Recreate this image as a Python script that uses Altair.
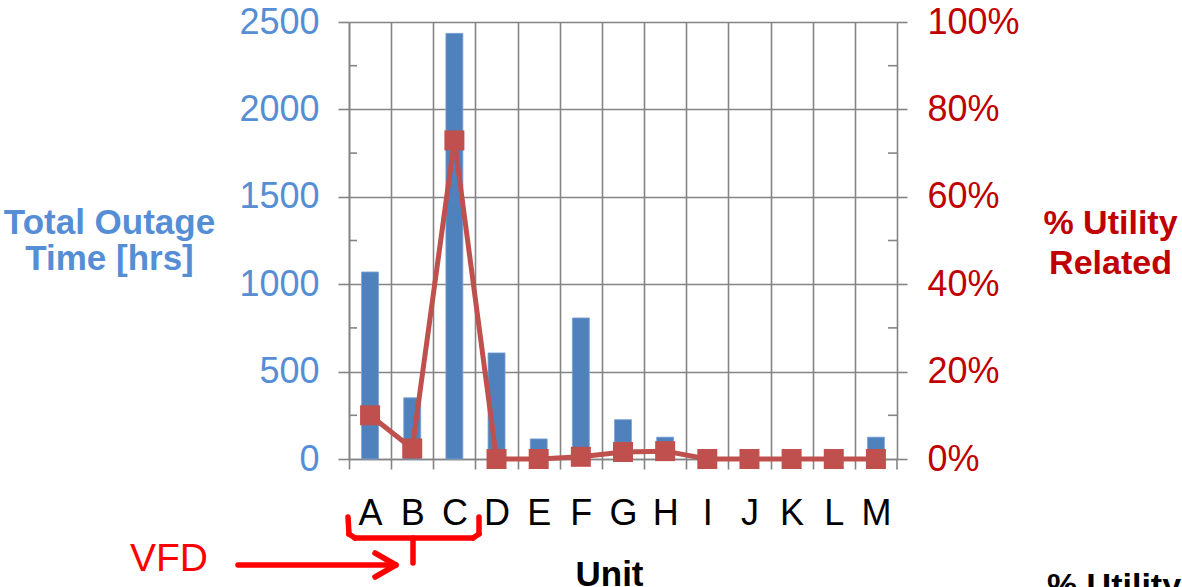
import altair as alt
import pandas as pd

# Units and their outage figures
units = ["A", "B", "C", "D", "E", "F", "G", "H", "I", "J", "K", "L", "M"]
outage_hrs = [1070, 350, 2435, 607, 115, 807, 225, 125, 0, 0, 0, 0, 125]
utility_share = [0.100, 0.024, 0.729, 0.0, 0.0, 0.005, 0.016, 0.018, 0.0, 0.0, 0.0, 0.0, 0.0]

# Axis tick values
hrs_ticks = [0, 500, 1000, 1500, 2000, 2500]
hrs_minor = [250, 750, 1250, 1750, 2250]
pct_ticks = [0, 0.2, 0.4, 0.6, 0.8, 1.0]
pct_minor = [0.1, 0.3, 0.5, 0.7, 0.9]

W, H = 548, 437
STEP = W / len(units)
FONT = "Liberation Sans"
GRID = "#848484"
GW = 1.6
BLUE_TXT = "#558ED5"
RED_TXT = "#C00000"
BAR = "#4F81BD"
LINE = "#C0504D"
ANNO = "#FF0000"

df = pd.DataFrame({"unit": units, "hrs": outage_hrs, "share": utility_share})
one = pd.DataFrame({"k": [0]})

x_enc = alt.X(
    "unit:N",
    sort=units,
    scale=alt.Scale(paddingInner=0, paddingOuter=0),
    axis=alt.Axis(
        title="Unit", labelAngle=0, labelFont=FONT, labelFontSize=36, labelColor="#000000",
        labelPadding=27, tickSize=10, tickColor=GRID, tickWidth=GW,
        tickOffset=-STEP / 2, labelOffset=STEP / 2,
        grid=True, gridColor=GRID, gridWidth=GW, domainColor=GRID, domainWidth=GW,
        titleFont=FONT, titleFontSize=35, titleFontWeight="bold", titleColor="#000000",
        titleX=260, titleY=126, titleAlign="center", titleBaseline="alphabetic",
    ),
)

hrs_scale = alt.Scale(domain=[0, 2500], nice=False, zero=True)
hrs_axis = alt.Axis(
    values=hrs_ticks, orient="left", format="d", labelFont=FONT, labelFontSize=36,
    labelColor=BLUE_TXT, labelPadding=19, tickSize=11, tickColor=GRID, tickWidth=GW,
    grid=True, gridColor=GRID, gridWidth=GW, domainColor=GRID, domainWidth=GW,
    title=["Total Outage", "Time [hrs]"], titleFont=FONT, titleFontSize=35,
    titleFontWeight="bold", titleColor=BLUE_TXT, titleAngle=0, titleAlign="center",
    titleBaseline="alphabetic", titleX=-240, titleY=211, titleLineHeight=36,
)

pct_scale = alt.Scale(domain=[0, 1], nice=False)
pct_axis = alt.Axis(
    values=pct_ticks, orient="right", format=".0%", labelFont=FONT, labelFontSize=36,
    labelColor=RED_TXT, labelPadding=20, tickSize=10, tickColor=GRID, tickWidth=GW,
    grid=False, domainColor=GRID, domainWidth=GW,
    title=["% Utility", "Related"], titleFont=FONT, titleFontSize=34,
    titleFontWeight="bold", titleColor=RED_TXT, titleAngle=0, titleAlign="center",
    titleBaseline="alphabetic", titleX=213, titleY=211, titleLineHeight=40,
)

bars = alt.Chart(df).mark_bar(size=17, color=BAR, stroke="#7FA3D3", strokeWidth=0.8).encode(
    x=x_enc,
    y=alt.Y("hrs:Q", scale=hrs_scale, axis=hrs_axis),
)

# Inner minor ticks on the left axis
minor_left = alt.Chart(pd.DataFrame({"hrs": hrs_minor})).mark_rule(color=GRID, strokeWidth=GW).encode(
    y=alt.Y("hrs:Q", scale=hrs_scale, axis=hrs_axis), x=alt.value(0), x2=alt.value(8)
)

line = alt.Chart(df).mark_line(
    color=LINE, strokeWidth=5,
    point=alt.OverlayMarkDef(shape="square", size=400, filled=True, color=LINE, opacity=1),
).encode(
    x=alt.X("unit:N", sort=units),
    y=alt.Y("share:Q", scale=pct_scale, axis=pct_axis),
)

# Inner minor ticks on the right axis
minor_right = alt.Chart(pd.DataFrame({"share": pct_minor})).mark_rule(color=GRID, strokeWidth=GW).encode(
    y=alt.Y("share:Q", scale=pct_scale, axis=pct_axis), x=alt.value(W - 9), x2=alt.value(W)
)


def seg(x1, y1, x2, y2, color=ANNO, width=5.5):
    return alt.Chart(one).mark_rule(color=color, strokeWidth=width, strokeCap="round").encode(
        x=alt.value(x1), y=alt.value(y1), x2=alt.value(x2), y2=alt.value(y2)
    )


# Last category boundary tick below the x axis
end_tick = seg(W, H, W, H + 10, color=GRID, width=GW)

# "VFD" bracket under units A-C with a pointing arrow
annotations = [
    seg(-1, 495, 0, 512),
    seg(0, 512, 6, 516),
    seg(6, 516, 124, 516),
    seg(124, 516, 130, 512),
    seg(130, 512, 130, 495),
    seg(64, 516, 64, 541),
    seg(-111, 543, 46, 543),
    seg(26, 531, 47, 543),
    seg(26, 555, 47, 543),
]

vfd = alt.Chart(one).mark_text(
    text="VFD", font=FONT, fontSize=39, color=ANNO, align="left", baseline="alphabetic"
).encode(x=alt.value(-219), y=alt.value(549))

cut_label = alt.Chart(one).mark_text(
    text="% Utility", font=FONT, fontSize=34, fontWeight="bold", color="#000000",
    align="center", baseline="alphabetic",
).encode(x=alt.value(765), y=alt.value(575))

left = alt.layer(bars, minor_left)
right = alt.layer(line, minor_right)

chart = (
    alt.layer(left, right, end_tick, vfd, cut_label, *annotations)
    .resolve_scale(y="independent")
    .properties(
        width=W,
        height=H,
        padding={"left": 349, "top": 22, "right": 285, "bottom": 128},
        autosize=alt.AutoSizeParams(type="none"),
        background="#FFFFFF",
    )
    .configure_view(stroke=None)
)

chart.save("out.html", embed_options={"renderer": "svg", "actions": False})
